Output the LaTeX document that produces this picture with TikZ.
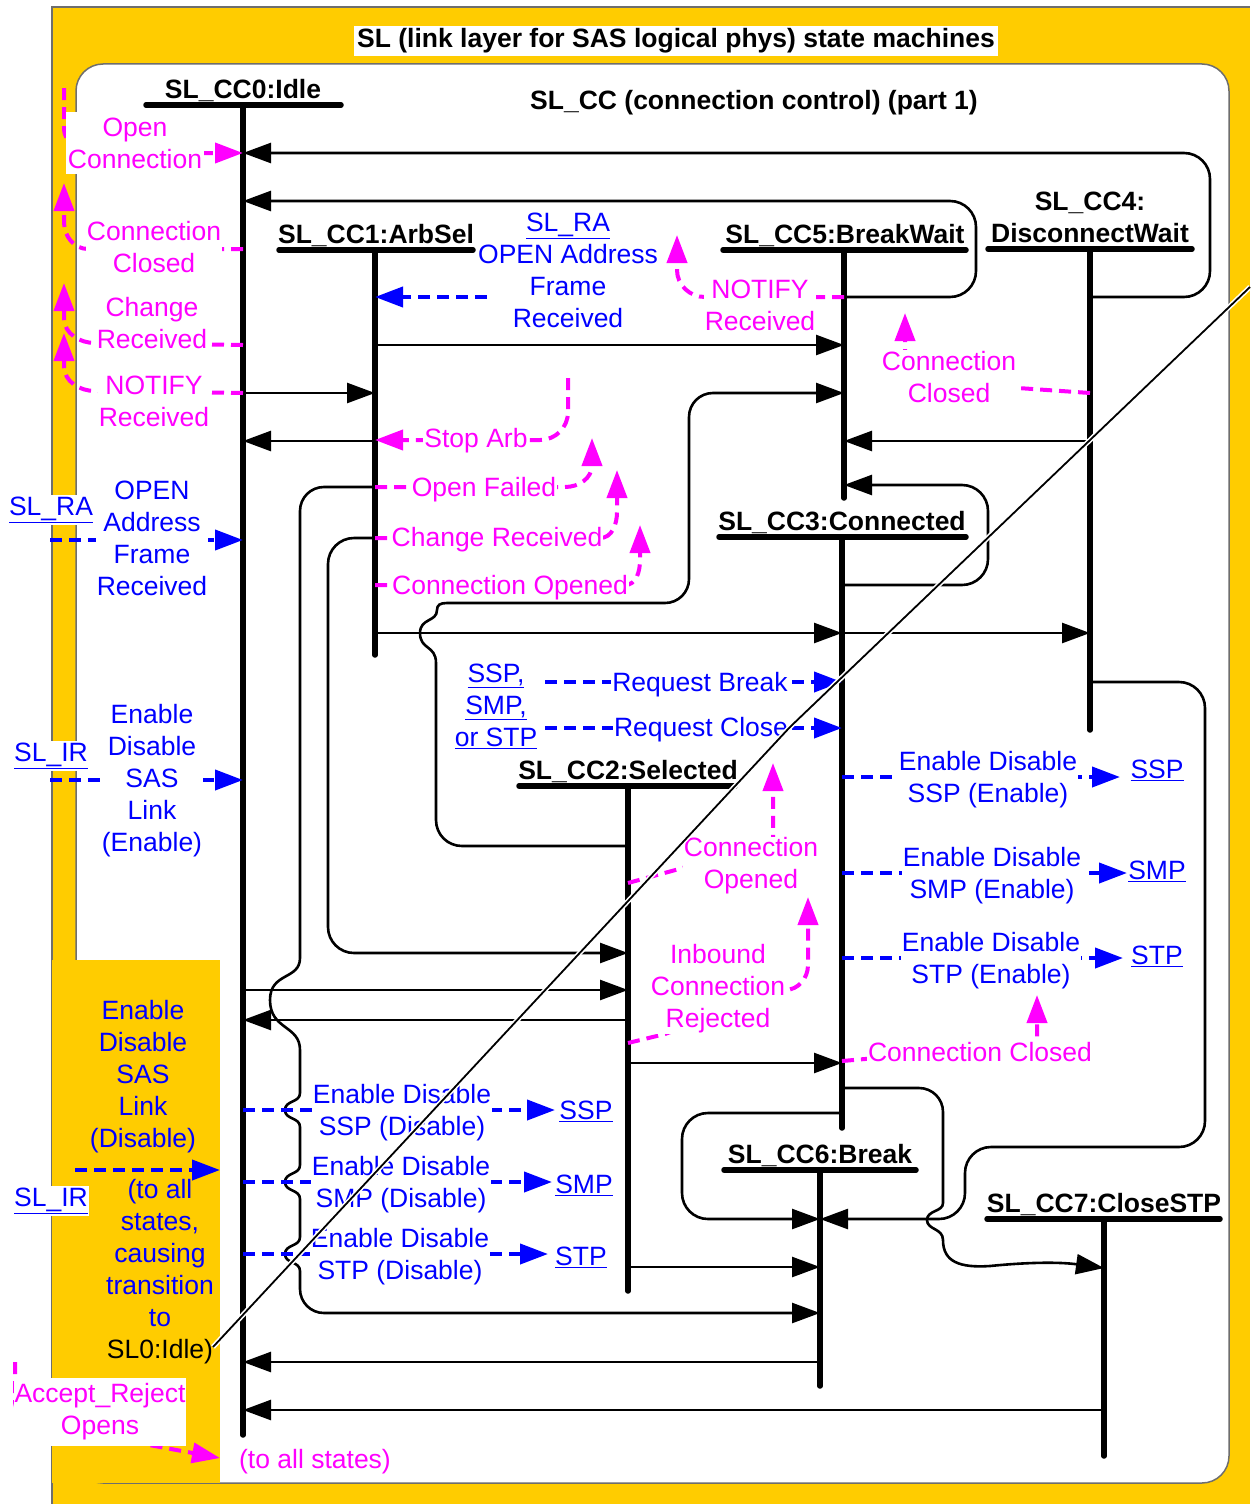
\documentclass[tikz,border=0pt]{standalone}
\usepackage{fontspec}
\setmainfont{Liberation Sans}
\usetikzlibrary{arrows.meta}
\definecolor{cYel}{HTML}{FFCC00}
\definecolor{cMag}{HTML}{FF00FF}
\definecolor{cBlue}{HTML}{0000FF}
\definecolor{cGray}{HTML}{6E6E6E}
\newcommand\lnk[1]{\underline{#1}}
\begin{document}
\begin{tikzpicture}[x=1pt,y=-1pt,
  every node/.style={font=\fontsize{26.5}{32}\selectfont, inner sep=1pt, align=center},
  stname/.style={font=\fontsize{26.5}{32}\selectfont\bfseries, anchor=base},
  life/.style={line width=5.5pt, line cap=round},
  trans/.style={line width=2.6pt, -{Triangle[length=28pt,width=20pt]}},
  transr/.style={trans, rounded corners=26pt},
  mdash/.style={cMag, line width=4pt, dash pattern=on 12pt off 7pt, -{Triangle[length=28pt,width=20pt]}},
  bdash/.style={cBlue, line width=4pt, dash pattern=on 12pt off 7pt, -{Triangle[length=28pt,width=20pt]}},
  mtxt/.style={text=cMag},
  btxt/.style={text=cBlue},
  wbox/.style={fill=white}]
\useasboundingbox (0,0) rectangle (1250,1504);
% frames
\fill[cYel] (52,7) rectangle (1250,1504);
\draw[cGray, line width=1.5pt] (52,1504) -- (52,7) -- (1250,7);
\draw[cGray, line width=1.5pt, fill=white, rounded corners=27pt] (76,64) rectangle (1229,1483);
\fill[cYel] (52,960) rectangle (220,1483);

\node[font=\fontsize{26.5}{32}\selectfont\bfseries, fill=white, inner xsep=3pt, inner ysep=3pt] (title) at (676,41) {SL (link layer for SAS logical phys) state machines};
\node[font=\fontsize{26.5}{32}\selectfont\bfseries] (sub) at (754,103) {SL\_CC (connection control) (part 1)};

% lifelines
\coordinate (L0) at (243,105);
\coordinate (L1) at (375,250);
\coordinate (L5) at (844,250);
\coordinate (L4) at (1090,249);
\coordinate (L3) at (842,537);
\coordinate (L2) at (628,786);
\coordinate (L6) at (820,1170);
\coordinate (L7) at (1104,1219);

\node[stname] (S0) at (243,98) {SL\_CC0:Idle};
\node[stname] (S1) at (376,243) {SL\_CC1:ArbSel};
\node[stname] (S5) at (845,243) {SL\_CC5:BreakWait};
\node[font=\fontsize{26.5}{32}\selectfont\bfseries] (S4) at (1090,217) {SL\_CC4:\\DisconnectWait};
\node[stname] (S3) at (842,530) {SL\_CC3:Connected};
\node[stname] (S2) at (628,779) {SL\_CC2:Selected};
\node[stname] (S6) at (820,1163) {SL\_CC6:Break};
\node[stname] (S7) at (1104,1212) {SL\_CC7:CloseSTP};

\draw[life] (146,105) -- (341,105);
\draw[life] (279,250) -- (473,250);
\draw[life] (723,250) -- (966,250);
\draw[life] (988,249) -- (1192,249);
\draw[life] (719,537) -- (966,537);
\draw[life] (519,786) -- (735,786);
\draw[life] (724,1170) -- (916,1170);
\draw[life] (987,1219) -- (1220,1219);

\draw[life] (L0) -- (L0|-0,1435);
\draw[life] (L1) -- (L1|-0,655);
\draw[life] (L5) -- (L5|-0,498);
\draw[life] (L4) -- (L4|-0,730);
\draw[life] (L3) -- (L3|-0,1128);
\draw[life] (L2) -- (L2|-0,1291);
\draw[life] (L6) -- (L6|-0,1386);
\draw[life] (L7) -- (L7|-0,1456);

% transitions
\draw[transr] (L4|-0,297) -- (1210,297) -- (1210,153) -- (L0|-0,153);
\draw[transr] (L5|-0,297) -- (976,297) -- (976,201) -- (L0|-0,201);
\draw[trans] (L1|-0,345) -- (L5|-0,345);
\draw[trans] (L0|-0,393) -- (L1|-0,393);
\draw[trans] (L1|-0,441) -- (L0|-0,441);
\draw[trans] (L4|-0,441) -- (L5|-0,441);
\draw[transr] (L3|-0,585) -- (988,585) -- (988,485) -- (L5|-0,485);
\draw[trans] (L1|-0,633) -- (L3|-0,633);
\draw[trans] (L3|-0,633) -- (L4|-0,633);
% Selected -> BreakWait (with jump)
\draw[trans] (L2|-0,846) -- (462,846) .. controls (447.6,846) and (436,834.6) .. (436,820)
  -- (436,663) .. controls (436,645) and (420,650) .. (420,633)
  .. controls (420,618) and (437,622) .. (437,610) .. controls (437,605) and (440,603) .. (447,603)
  -- (665,603) .. controls (678.3,603) and (689,592.3) .. (689,579)
  -- (689,417) .. controls (689,403.7) and (699.7,393) .. (713,393) -- (L5|-0,393);
% ArbSel -> Break (Open Failed, with jumps)
\draw[trans] (L1|-0,487) -- (324,487) .. controls (310.7,487) and (300,497.7) .. (300,511)
  -- (300,958) .. controls (300,980) and (270,972) .. (270,1000)
  .. controls (270,1030) and (300,1025) .. (300,1050)
  -- (300,1093) .. controls (300,1103) and (285,1100) .. (285,1110) .. controls (285,1120) and (300,1117) .. (300,1127)
  -- (300,1165) .. controls (300,1175) and (285,1172) .. (285,1182) .. controls (285,1192) and (300,1189) .. (300,1199)
  -- (300,1237) .. controls (300,1247) and (285,1244) .. (285,1254) .. controls (285,1264) and (300,1261) .. (300,1271)
  -- (300,1289) .. controls (300,1302.3) and (310.7,1313) .. (324,1313) -- (L6|-0,1313);
\draw[transr] (L1|-0,538) -- (328,538) -- (328,953) -- (L2|-0,953);
\draw[trans] (L0|-0,990) -- (L2|-0,990);
\draw[trans] (L2|-0,1020) -- (L0|-0,1020);
\draw[trans] (L2|-0,1063) -- (L3|-0,1063);
\draw[trans] (L2|-0,1267) -- (L6|-0,1267);
\draw[transr] (L3|-0,1113) -- (682,1113) -- (682,1219) -- (L6|-0,1219);
\draw[transr] (L4|-0,682) -- (1205,682) -- (1205,1147) -- (965,1147) -- (965,1219) -- (L6|-0,1219);
% Connected -> CloseSTP (with jump)
\draw[trans] (L3|-0,1088) -- (919,1088) .. controls (932.3,1088) and (943,1098.7) .. (943,1112)
  -- (943,1203) .. controls (943,1212) and (927,1210) .. (927,1220)
  .. controls (927,1230) and (943,1228) .. (943,1240)
  .. controls (943,1262) and (960,1268) .. (990,1266)
  .. controls (1030,1262) and (1060,1262) .. (L7|-0,1268);
\draw[trans] (L6|-0,1362) -- (L0|-0,1362);
\draw[trans] (L7|-0,1410) -- (L0|-0,1410);

% magenta events
\draw[mdash] (64,88) -- (64,128) to[out=-90,in=180] (95,153) -- (L0|-0,153);
\draw[mdash] (L0|-0,249) -- (88,249) to[out=180,in=-90] (64,222) -- (64,183);
\draw[mdash] (L0|-0,345) -- (95,343) to[out=180,in=-90] (64,318) -- (64,283);
\draw[mdash] (L0|-0,393) -- (95,391) to[out=180,in=-90] (64,366) -- (64,333);
\draw[mdash] (568,378) -- (568,412) to[out=-90,in=0] (540,440) -- (L1|-0,440);
\draw[mdash] (L1|-0,487) -- (565,487) to[out=0,in=-90] (592,465) -- (592,438);
\draw[mdash] (L1|-0,538) -- (600,538) to[out=0,in=-90] (617,512) -- (617,470);
\draw[mdash] (L1|-0,585) -- (625,585) to[out=0,in=-90] (640,560) -- (640,525);
\draw[mdash] (L5|-0,297) -- (705,297) to[out=180,in=-90] (677,270) -- (677,235);
\draw[mdash] (L4|-0,393) -- (1018,388) -- (905,385) -- (905,313);
\draw[mdash] (L2|-0,883) -- (690,866) -- (773,850) -- (773,763);
\draw[mdash] (L2|-0,1043) -- (665,1034) -- (785,990) to[out=0,in=-90] (808,965) -- (808,897);
\draw[mdash] (L3|-0,1061) -- (865,1059) -- (1037,1050) -- (1037,995);
\draw[mdash] (15,1362) -- (15,1400) to[out=-90,in=180] (60,1430) -- (133,1442) -- (220,1458);

% blue events
\draw[bdash] (50,540) -- (L0|-0,540);
\draw[bdash] (50,780) -- (L0|-0,780);
\draw[bdash] (487,297) -- (L1|-0,297);
\draw[bdash] (545,682) -- (L3|-0,682);
\draw[bdash] (545,728) -- (L3|-0,728);
\draw[bdash] (L3|-0,777) -- (1120,777);
\draw[bdash] (L3|-0,873) -- (1127,873);
\draw[bdash] (L3|-0,958) -- (1123,958);
\draw[bdash] (L0|-0,1110) -- (555,1110);
\draw[bdash] (L0|-0,1182) -- (552,1182);
\draw[bdash] (L0|-0,1254) -- (548,1254);
\draw[bdash] (75,1170) -- (220,1170);

% magenta labels
\node[mtxt, wbox, inner xsep=2pt, inner ysep=6pt] (mOC) at (135,143) {Open\\Connection};
\node[mtxt, wbox] (mCC0) at (154,247) {Connection\\Closed};
\node[mtxt, wbox] (mCR0) at (152,323) {Change\\Received};
\node[mtxt, wbox] (mNR0) at (154,401) {NOTIFY\\Received};
\node[mtxt, wbox] (mSA) at (476,441) {Stop Arb};
\node[mtxt, wbox] (mOF) at (484,490) {Open Failed};
\node[mtxt, wbox] (mCR1) at (497,540) {Change Received};
\node[mtxt, wbox] (mCO1) at (510,588) {Connection Opened};
\node[mtxt, wbox] (mNR5) at (760,305) {NOTIFY\\Received};
\node[mtxt, wbox] (mCC4) at (949,377) {Connection\\Closed};
\node[mtxt, wbox] (mCO2) at (751,866) {Connection\\Opened};
\node[mtxt, wbox] (mICR) at (718,989) {Inbound\\Connection\\Rejected};
\node[mtxt, wbox] (mCC3) at (980,1052) {Connection Closed};
\node[mtxt, wbox, inner xsep=1pt, inner ysep=6pt] (mAR) at (100,1412) {Accept\_Reject\\Opens};
\node[mtxt] (mAll) at (315,1462) {(to all states)};

% blue labels
\node[btxt] (bRAt) at (568,270) {\lnk{SL\_RA}\\OPEN Address\\Frame\\Received};
\node[btxt, wbox, inner ysep=2pt] (bRA) at (51,510) {\lnk{SL\_RA}};
\node[btxt, wbox] (bOAF) at (152,538) {OPEN\\Address\\Frame\\Received};
\node[btxt, wbox, inner ysep=2pt] (bIR1) at (51,756) {\lnk{SL\_IR}};
\node[btxt, wbox] (bEn) at (152,781) {Enable\\Disable\\SAS\\Link\\(Enable)};
\node[btxt] (bPorts) at (496,706) {\lnk{SSP,}\\\lnk{SMP,}\\\lnk{or STP}};
\node[btxt, wbox] (bRB) at (700,685) {Request Break};
\node[btxt, wbox] (bRC) at (701,730) {Request Close};
\node[btxt, wbox] (bE1) at (988,780) {Enable Disable\\SSP (Enable)};
\node[btxt] (bE1t) at (1157,770) {\lnk{SSP}};
\node[btxt, wbox] (bE2) at (992,876) {Enable Disable\\SMP (Enable)};
\node[btxt] (bE2t) at (1157,871) {\lnk{SMP}};
\node[btxt, wbox] (bE3) at (991,961) {Enable Disable\\STP (Enable)};
\node[btxt] (bE3t) at (1157,956) {\lnk{STP}};
\node[btxt, wbox] (bD1) at (402,1113) {Enable Disable\\SSP (Disable)};
\node[btxt] (bD1t) at (586,1111) {\lnk{SSP}};
\node[btxt, wbox] (bD2) at (401,1185) {Enable Disable\\SMP (Disable)};
\node[btxt] (bD2t) at (584,1185) {\lnk{SMP}};
\node[btxt, wbox] (bD3) at (400,1257) {Enable Disable\\STP (Disable)};
\node[btxt] (bD3t) at (581,1257) {\lnk{STP}};
\node[btxt] (bDis) at (143,1077) {Enable\\Disable\\SAS\\Link\\(Disable)};
\node[btxt, wbox, inner ysep=2pt] (bIR2) at (51,1201) {\lnk{SL\_IR}};
\node[btxt] (bToAll) at (160,1272) {(to all\\states,\\causing\\transition\\to\\\textcolor{black}{SL0:Idle)}};

% callout diagonal
\coordinate (dA) at (213,1347);
\coordinate (dB) at (790,727);
\coordinate (dC) at (1250,287);
\draw[white, line width=5pt, line join=round] (dA) -- (dB) -- (dC);
\draw[black, line width=1.8pt, line join=round] (dA) -- (dB) -- (dC);
\end{tikzpicture}
\end{document}
